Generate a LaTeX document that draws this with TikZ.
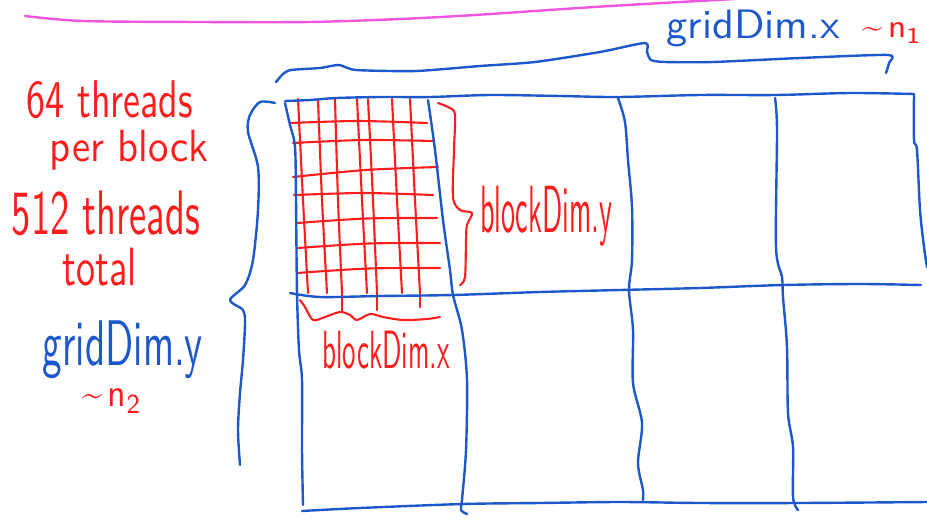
\documentclass[tikz,border=0pt]{standalone}
\usepackage{fontspec}
\usepackage{graphicx}
\definecolor{penblue}{RGB}{28,88,204}
\definecolor{penred}{RGB}{255,28,28}
\definecolor{penpink}{RGB}{240,85,220}
\tikzset{
  bluepen/.style={draw=penblue,line width=2.4pt,line cap=round,line join=round},
  redpen/.style={draw=penred,line width=2.1pt,line cap=round,line join=round},
  pinkpen/.style={draw=penpink,line width=2.4pt,line cap=round},
  hw/.style={inner sep=0pt,outer sep=0pt,anchor=center,font=\sffamily},
}
\newcommand{\hwtext}[3]{\resizebox*{#1pt}{#2pt}{#3}}
\newcommand{\tildesub}[1]{\textasciitilde\,n\raisebox{-0.35ex}{\scriptsize #1}}
\begin{document}
\begin{tikzpicture}[x=1pt,y=-1pt]
\useasboundingbox (0,0) rectangle (927,520);
% magenta line
\draw[pinkpen] plot[smooth] coordinates {(25,16) (83,21) (200,22) (309,22) (400,19) (475,15) (594,7) (680,2) (735,-1)};
% top brace gridDim.x
\draw[bluepen] plot[smooth,tension=0.4] coordinates {(276,82) (283,74) (291,70) (320,68) (339,65) (356,70) (416,71) (480,66) (535,62) (600,52) (645,43) (647,52) (651,60) (665,62) (713,62) (800,58) (888,55) (889,63) (886,73)};
\node[hw,text=penblue] (gdx) at (753,28) {\hwtext{173}{37}{gridDim.x}};
\node[hw,text=penred] (n1) at (891,33) {\hwtext{58}{20}{\tildesub{1}}};
% left brace gridDim.y
\draw[bluepen] plot[smooth,tension=0.5] coordinates {(275,103) (260,102) (250,115) (248,132) (258,167) (258,210) (253,260) (245,285) (230,300) (243,310) (245,323) (243,360) (240,393) (238,430) (240,465)};
% red text left
\node[hw,text=penred] (t1) at (110,100) {\hwtext{166}{38}{64 threads}};
\node[hw,text=penred] (t2) at (129,150) {\hwtext{158}{40}{per block}};
\node[hw,text=penred] (t3) at (106,213.5) {\hwtext{188}{45}{512 threads}};
\node[hw,text=penred] (t4) at (100,267) {\hwtext{74}{38}{total}};
\node[hw,text=penblue] (gdy) at (123,350) {\hwtext{160}{58}{gridDim.y}};
\node[hw,text=penred] (n2) at (111,401) {\hwtext{58}{24}{\tildesub{2}}};
% red thread grid
\foreach \a/\b/\c in {298/303/308, 318/322/327, 335/338/342, 357/362/367, 368/373/377, 392/397/402, 410/415/420}{
  \draw[redpen] plot[smooth] coordinates {(\a,99) (\b,200) (\c,293)};
}
\draw[redpen] (342,293) -- (342,311);
\draw[redpen] (377,293) -- (377,310);
\draw[redpen] (420,293) -- (420,307);
\foreach \ya/\yb/\xa/\xb in {123/123/290/427, 143/141/293/433, 177/167/293/438, 195/195/294/433, 223/218/297/437, 248/243/298/440, 273/268/297/440}{
  \draw[redpen] plot[smooth] coordinates {(\xa,\ya) ({(\xa+\xb)/2},{(\ya+\yb)/2-2}) (\xb,\yb)};
}
% blockDim.y brace
\draw[redpen] plot[smooth,tension=0.5] coordinates {(438,103) (450,108) (455,115) (454,150) (453,197) (460,210) (472,213) (467,225) (466,240) (465,277) (460,285)};
\node[hw,text=penred] (bdy) at (546,216) {\hwtext{132}{60}{blockDim.y}};
% blockDim.x brace
\draw[redpen] plot[smooth,tension=0.5] coordinates {(300,300) (305,307) (313,320) (325,317) (340,312) (350,315) (357,320) (370,314) (383,317) (403,320) (427,319) (440,317)};
\node[hw,text=penred] (bdx) at (386,350) {\hwtext{127}{38}{blockDim.x}};
% blue grid
\draw[bluepen] plot[smooth,tension=0.5] coordinates {(285,101) (310,100) (337,98) (380,97) (430,97) (490,95) (560,96) (618,97) (700,95) (776,95) (850,93) (914,94)};
\draw[bluepen] plot[smooth,tension=0.5] coordinates {(914,94) (914,140) (917,150) (920,210) (924,247) (927,267)};
\draw[bluepen] plot[smooth,tension=0.5] coordinates {(290,293) (320,297) (380,296) (453,295) (540,292) (620,290) (700,288) (783,285) (860,284) (921,285)};
\draw[bluepen] plot[smooth,tension=0.5] coordinates {(302,511) (360,508) (463,504) (540,503) (620,502) (700,503) (800,503) (927,502)};
\draw[bluepen] plot[smooth,tension=0.5] coordinates {(285,103) (290,125) (295,147) (296,200) (297,293) (299,350) (302,380) (302,450) (303,505)};
\draw[bluepen] plot[smooth,tension=0.5] coordinates {(428,100) (435,150) (443,220) (450,270) (453,295) (462,330) (467,380) (466,450) (462,500) (461,510) (467,514)};
\draw[bluepen] plot[smooth,tension=0.5] coordinates {(618,98) (625,122) (628,160) (632,207) (632,260) (629,290) (633,330) (633,383) (642,423) (638,463) (643,490) (643,500)};
\draw[bluepen] plot[smooth,tension=0.5] coordinates {(775,98) (777,130) (776,247) (782,277) (783,297) (787,347) (788,413) (793,447) (793,497) (798,510)};
\end{tikzpicture}
\end{document}
